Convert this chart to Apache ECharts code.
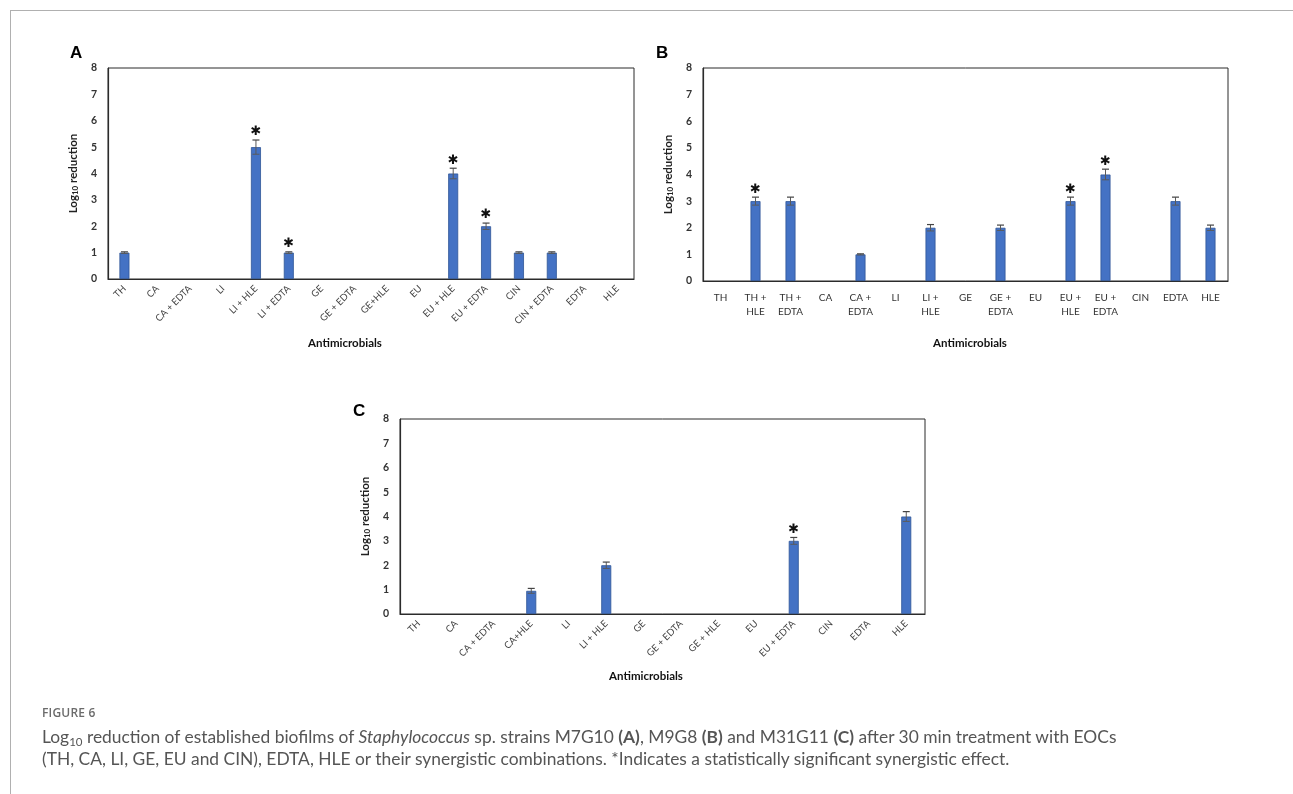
<!DOCTYPE html>
<html>
<head>
<meta charset="utf-8">
<script src="https://cdn.jsdelivr.net/npm/echarts@6/dist/echarts.min.js"></script>
<style>
  html, body { margin: 0; padding: 0; background: #fff; }
  #page { position: relative; width: 1293px; height: 794px; overflow: hidden; }
  #chart { position: absolute; left: 0; top: 0; width: 1293px; height: 794px; }
  #frame { position: absolute; left: 10px; top: 10px; width: 1300px; height: 800px;
           border-top: 1px solid #b0b0b0; border-left: 1px solid #b0b0b0; }
  #fig { position: absolute; left: 42px; top: 704px; font-family: 'Open Sans', sans-serif;
         font-size: 12px; font-weight: 600; color: #6b6b6b; letter-spacing: 0.2px; }
  #cap { position: absolute; left: 42px; top: 726px; font-family: Lato, sans-serif;
         font-size: 17.4px; line-height: 22px; color: #555; white-space: nowrap; }
  #cap sub { font-size: 11.5px; vertical-align: -3px; line-height: 0; }
  #cap b { font-weight: 700; }
</style>
</head>
<body>
<div id="page">
  <div id="frame"></div>
  <div id="chart"></div>
  <div id="fig">FIGURE 6</div>
  <div id="cap">Log<sub>10</sub> reduction of established biofilms of <i>Staphylococcus</i> sp. strains M7G10 <b>(A)</b>, M9G8 <b>(B)</b> and M31G11 <b>(C)</b> after 30 min treatment with EOCs<br>(TH, CA, LI, GE, EU and CIN), EDTA, HLE or their synergistic combinations. *Indicates a statistically significant synergistic effect.</div>
</div>
<script>
// panel A – M7G10
const catsA = ['TH', 'CA', 'CA + EDTA', 'LI', 'LI + HLE', 'LI + EDTA', 'GE', 'GE + EDTA', 'GE+HLE',
  'EU', 'EU + HLE', 'EU + EDTA', 'CIN', 'CIN + EDTA', 'EDTA', 'HLE'];
const valsA = [1, 0, 0, 0, 5, 1, 0, 0, 0, 0, 4, 2, 1, 1, 0, 0];
const errsA = [0.03, 0, 0, 0, 0.27, 0.03, 0, 0, 0, 0, 0.2, 0.12, 0.03, 0.03, 0, 0];
const starA = ['LI + HLE', 'LI + EDTA', 'EU + HLE', 'EU + EDTA'];

// panel B – M9G8
const catsB = ['TH', 'TH +\nHLE', 'TH +\nEDTA', 'CA', 'CA +\nEDTA', 'LI', 'LI +\nHLE', 'GE', 'GE +\nEDTA',
  'EU', 'EU +\nHLE', 'EU +\nEDTA', 'CIN', 'EDTA', 'HLE'];
const valsB = [0, 3, 3, 0, 1, 0, 2, 0, 2, 0, 3, 4, 0, 3, 2];
const errsB = [0, 0.15, 0.15, 0, 0.02, 0, 0.12, 0, 0.1, 0, 0.15, 0.2, 0, 0.15, 0.1];
const starB = ['TH +\nHLE', 'EU +\nHLE', 'EU +\nEDTA'];

// panel C – M31G11
const catsC = ['TH', 'CA', 'CA + EDTA', 'CA+HLE', 'LI', 'LI + HLE', 'GE', 'GE + EDTA', 'GE + HLE',
  'EU', 'EU + EDTA', 'CIN', 'EDTA', 'HLE'];
const valsC = [0, 0, 0, 0.95, 0, 2, 0, 0, 0, 0, 3, 0, 0, 4];
const errsC = [0, 0, 0, 0.1, 0, 0.13, 0, 0, 0, 0, 0.14, 0, 0, 0.2];
const starC = ['EU + EDTA'];

const yTicks = [0, 1, 2, 3, 4, 5, 6, 7, 8];

const chart = echarts.init(document.getElementById('chart'), null, { renderer: 'canvas' });

const panels = [
  { cats: catsA, vals: valsA, errs: errsA, stars: starA, grid: { left: 108, top: 68, width: 526, height: 211 }, rotate: 45 },
  { cats: catsB, vals: valsB, errs: errsB, stars: starB, grid: { left: 703, top: 68, width: 525, height: 213 }, rotate: 0 },
  { cats: catsC, vals: valsC, errs: errsC, stars: starC, grid: { left: 400, top: 419, width: 525, height: 195 }, rotate: 45 }
];

const grids = [], xAxes = [], yAxes = [], series = [];

panels.forEach((p, i) => {
  grids.push(Object.assign({ show: true, borderColor: '#2b2b2b', borderWidth: 1, backgroundColor: 'transparent' }, p.grid));
  xAxes.push({
    type: 'category', gridIndex: i, data: p.cats,
    axisLine: { show: true, lineStyle: { color: '#2b2b2b', width: 1.2 } },
    axisTick: { show: false },
    axisLabel: p.rotate ? {
      interval: 0, rotate: 45, margin: 8, fontSize: 9.5, color: '#444',
      fontFamily: 'Lato, sans-serif'
    } : {
      interval: 0, margin: 10, fontSize: 10, color: '#333', lineHeight: 14,
      fontFamily: 'Lato, sans-serif'
    }
  });
  yAxes.push({
    type: 'value', gridIndex: i, min: 0, max: 8, interval: 1,
    name: '{a|Log}{s|10}{a| reduction}', nameLocation: 'middle', nameGap: 29, nameRotate: 90,
    nameTextStyle: {
      rich: {
        a: { fontSize: 11.5, fontWeight: 'bold', color: '#222', fontFamily: 'Lato, sans-serif' },
        s: { fontSize: 8, fontWeight: 'bold', color: '#222', fontFamily: 'Lato, sans-serif', verticalAlign: 'bottom', padding: [3, 0, 0, 0] }
      }
    },
    splitLine: { show: false },
    axisLine: { show: true, lineStyle: { color: '#2b2b2b', width: 1.2 } },
    axisTick: { show: false },
    axisLabel: {
      margin: 11, fontSize: 10.5, fontWeight: 'bold', color: '#333', fontFamily: 'Lato, sans-serif',
      formatter: v => yTicks.includes(v) ? String(v) : ''
    }
  });
  series.push({
    type: 'bar', xAxisIndex: i, yAxisIndex: i, barWidth: 10, silent: true,
    data: p.vals.map(v => (v === 0 ? '-' : v)),
    itemStyle: { color: '#4472c4', borderColor: '#2f5597', borderWidth: 0.8 }
  });
  series.push({
    type: 'custom', xAxisIndex: i, yAxisIndex: i, silent: true, z: 5,
    data: p.vals.map((v, k) => [k, v, p.errs[k], p.stars.includes(p.cats[k]) ? 1 : 0]),
    renderItem: (params, api) => {
      const k = api.value(0), v = api.value(1), e = api.value(2), s = api.value(3);
      if (v === 0) return null;
      const top = api.coord([k, v + e]);
      const bot = api.coord([k, v - e]);
      const cap = 3.5;
      const children = [
        { type: 'line', shape: { x1: top[0], y1: top[1], x2: bot[0], y2: bot[1] }, style: { stroke: '#5a5a5a', lineWidth: 1 } },
        { type: 'line', shape: { x1: top[0] - cap, y1: top[1], x2: top[0] + cap, y2: top[1] }, style: { stroke: '#444', lineWidth: 1.2 } },
        { type: 'line', shape: { x1: bot[0] - cap, y1: bot[1], x2: bot[0] + cap, y2: bot[1] }, style: { stroke: '#5a5a5a', lineWidth: 1 } }
      ];
      if (s) {
        children.push({
          type: 'text',
          style: { x: top[0], y: top[1] - 8, text: '✱', fill: '#111', fontSize: 13, align: 'center', verticalAlign: 'middle', fontFamily: 'DejaVu Sans' }
        });
      }
      return { type: 'group', children };
    }
  });
});

const nameStyle = { fill: '#111', fontSize: 11.5, fontWeight: 'bold', fontFamily: 'Lato, sans-serif', align: 'center', verticalAlign: 'middle' };
const letterStyle = { fill: '#000', fontSize: 17, fontWeight: 'bold', fontFamily: 'Liberation Sans, Arial, sans-serif', align: 'left', verticalAlign: 'top' };

chart.setOption({
  animation: false,
  grid: grids,
  xAxis: xAxes,
  yAxis: yAxes,
  series: series,
  graphic: [
    { type: 'text', left: 70, top: 45, style: Object.assign({ text: 'A' }, letterStyle) },
    { type: 'text', left: 656, top: 45, style: Object.assign({ text: 'B' }, letterStyle) },
    { type: 'text', left: 353, top: 403, style: Object.assign({ text: 'C' }, letterStyle) },
    { type: 'text', x: 345, y: 343, style: Object.assign({ text: 'Antimicrobials' }, nameStyle) },
    { type: 'text', x: 970, y: 343, style: Object.assign({ text: 'Antimicrobials' }, nameStyle) },
    { type: 'text', x: 646, y: 676, style: Object.assign({ text: 'Antimicrobials' }, nameStyle) }
  ]
});
</script>
</body>
</html>
